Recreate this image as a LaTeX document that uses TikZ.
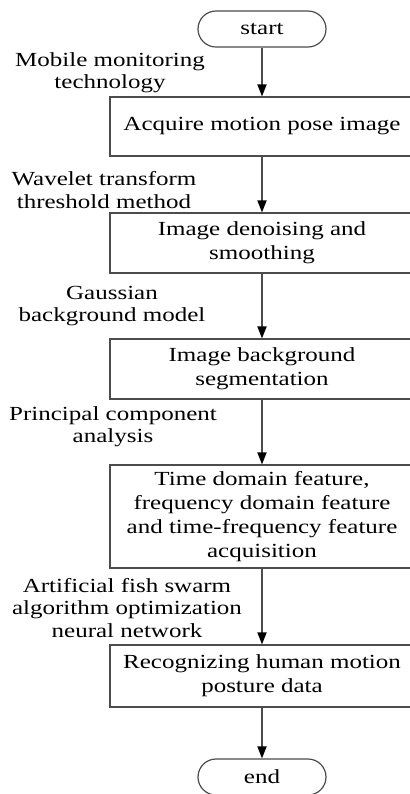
\documentclass[tikz,border=0pt]{standalone}
\usepackage{fontspec}
\setmainfont{Liberation Serif}[FakeStretch=1.25]
\usetikzlibrary{arrows.meta}

\begin{document}
\begin{tikzpicture}[x=0.5pt, y=0.5pt,
    terminal/.style={draw=black!70, line width=0.6pt, rounded corners=9pt,
        minimum width=64pt, minimum height=18pt, inner sep=0pt,
        font=\fontsize{10}{12}\selectfont},
    procbox/.style={draw=black!70, line width=0.6pt, minimum width=152pt,
        align=center, inner sep=2pt, font=\fontsize{10}{12}\selectfont},
    note/.style={align=center, inner sep=0pt, font=\fontsize{10}{11.2}\selectfont},
    flow/.style={draw=black!70, line width=0.6pt,
        -{Triangle[length=6pt, width=4.6pt, color=black]}}]

    \useasboundingbox (0,0) rectangle (410,-794);
    \clip (0,0) rectangle (410,-794);

    % flow nodes
    \node[terminal] (start) at (262,-29) {start};
    \node[procbox, minimum height=29.5pt] (acquire) at (262,-126.5) {Acquire motion pose image};
    \node[procbox, minimum height=30pt] (denoise) at (262,-243) {Image denoising and\\smoothing};
    \node[procbox, minimum height=30pt] (segment) at (262,-369) {Image background\\segmentation};
    \node[procbox, minimum height=51.5pt] (feature) at (262,-516.5)
        {Time domain feature,\\frequency domain feature\\and time-frequency feature\\acquisition};
    \node[procbox, minimum height=31pt] (recog) at (262,-676) {Recognizing human motion\\posture data};
    \node[terminal] (end) at (262,-777) {end};

    % method labels
    \node[note] (mobile) at (110,-73) {Mobile monitoring\\technology};
    \node[note] (wavelet) at (104,-190) {Wavelet transform\\threshold method};
    \node[note] (gauss) at (112,-306) {Gaussian\\background model};
    \node[note] (pca) at (113,-426.5) {Principal component\\analysis};
    \node[note] (afsa) at (127,-608) {Artificial fish swarm\\algorithm optimization\\neural network};

    % connectors
    \draw[flow] (start) -- (acquire);
    \draw[flow] (acquire) -- (denoise);
    \draw[flow] (denoise) -- (segment);
    \draw[flow] (segment) -- (feature);
    \draw[flow] (feature) -- (recog);
    \draw[flow] (recog) -- (end);

\end{tikzpicture}
\end{document}
